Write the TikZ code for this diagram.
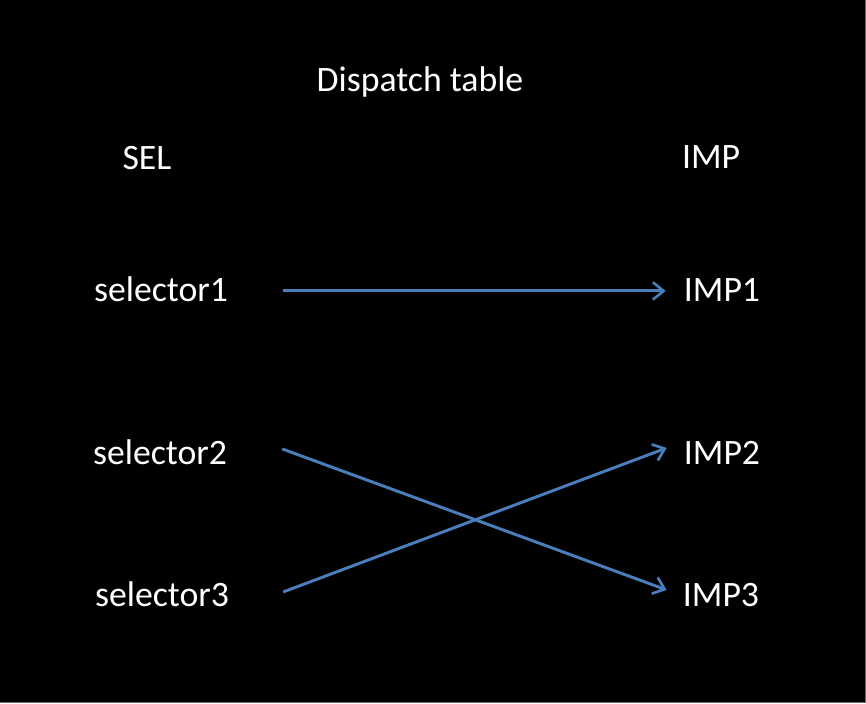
\documentclass[tikz,border=0pt]{standalone}
\usepackage{fontspec}
\setmainfont{Carlito}
\usetikzlibrary{arrows.meta,calc}
\definecolor{linkblue}{RGB}{74,126,187}
\begin{document}
\begin{tikzpicture}[x=0.75pt,y=0.75pt,yscale=-1,xscale=1,
  lbl/.style={anchor=base,inner sep=0pt,text=white,text height=17.2pt,text depth=0pt,
    font=\fontsize{26.8}{32}\selectfont},
  link/.style={draw=linkblue,line width=2.2pt,-{Straight Barb[length=8pt,width=13pt,line width=2pt]}}]
%set diagram left start at 0, and has height of 703
\useasboundingbox (0,0) rectangle (866,703);
\fill [black] (0,0) rectangle (866,703);
\draw [color={rgb, 255:red, 110; green, 110; blue, 110 }, line width=0.75] (865.5,0) -- (865.5,702.5) -- (0,702.5);

% Text Node
\draw (420,91) node [lbl] (title) {Dispatch table};
% Text Node
\draw (147,169) node [lbl] (sel) {SEL};
% Text Node
\draw (711,168) node [lbl] (imp) {IMP};
% Text Node
\draw (161,301) node [lbl] (sel1) {selector1};
% Text Node
\draw (722,301) node [lbl] (imp1) {IMP1};
% Text Node
\draw (160,464) node [lbl] (sel2) {selector2};
% Text Node
\draw (722,464) node [lbl] (imp2) {IMP2};
% Text Node
\draw (162,606) node [lbl] (sel3) {selector3};
% Text Node
\draw (721,606) node [lbl] (imp3) {IMP3};

%Straight Lines
\draw [link] ($(sel1.east)+(55,1.4)$) -- ($(imp1.west)+(-18,1.4)$);
%Straight Lines
\draw [link] ($(sel2.east)+(55,-3.6)$) -- ($(imp3.west)+(-16,-4.6)$);
%Straight Lines
\draw [link] ($(sel3.east)+(54,-2.6)$) -- ($(imp2.west)+(-17,-4.6)$);

\end{tikzpicture}
\end{document}
